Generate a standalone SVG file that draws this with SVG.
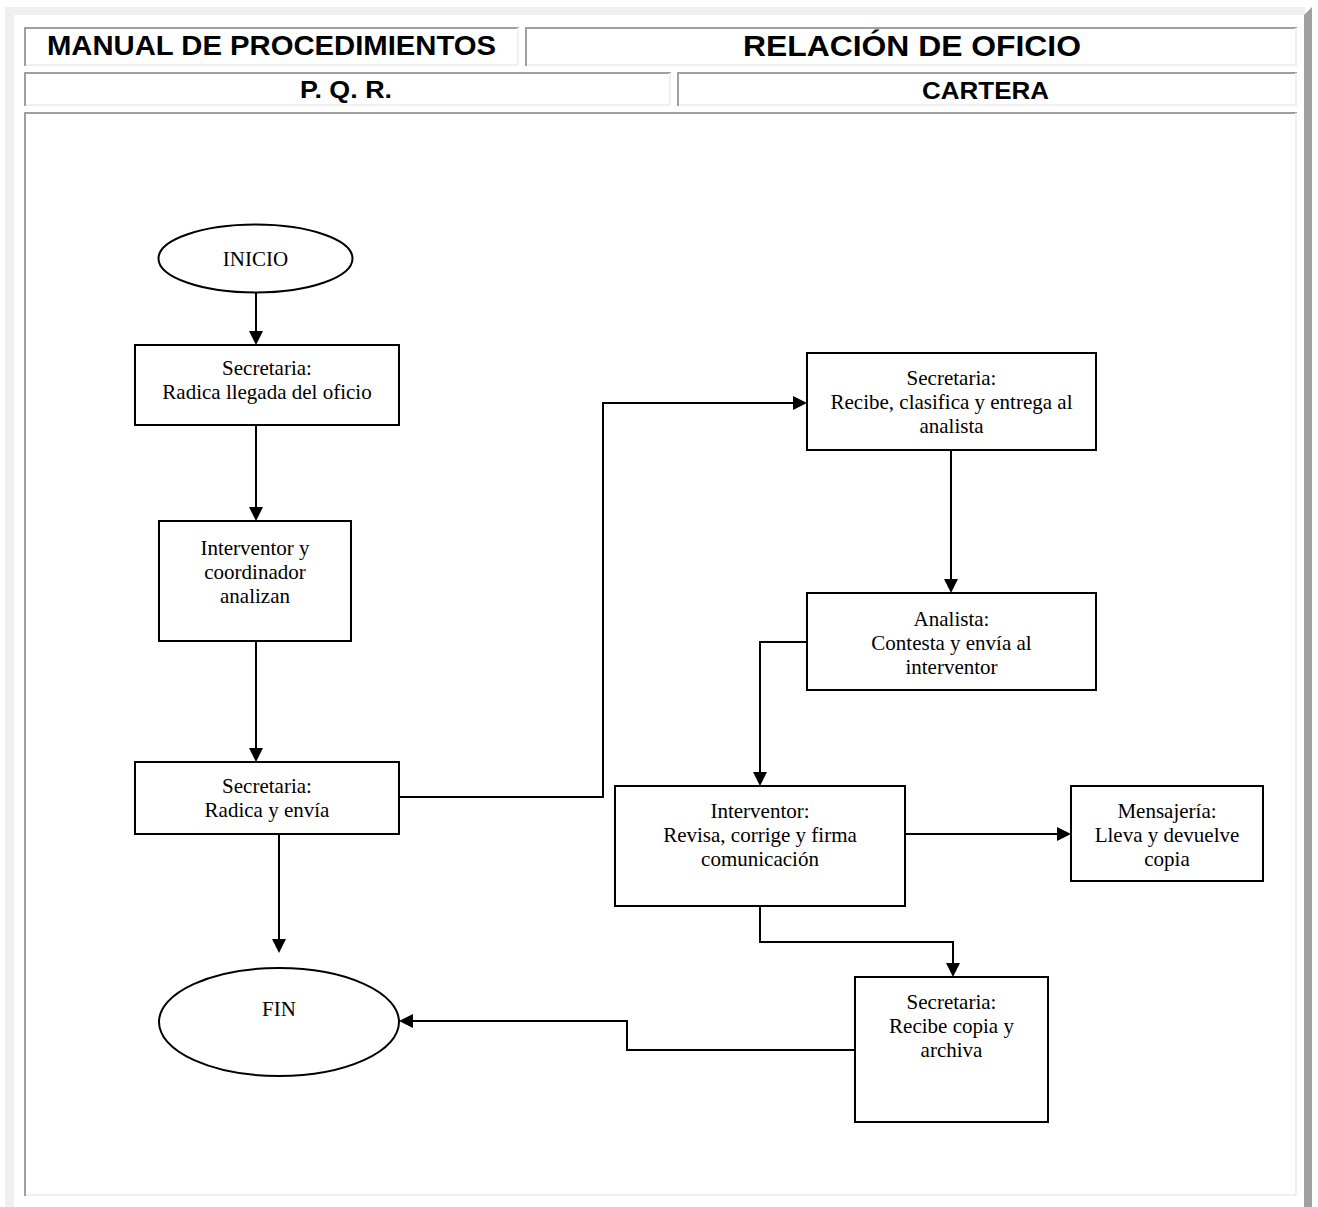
<svg xmlns="http://www.w3.org/2000/svg" width="1318" height="1207" viewBox="0 0 1318 1207">
  <style>
    .frame-light { fill: #f0f0f0; }
    .frame-dark { fill: #a0a0a0; }
    .cell-dark { fill: none; stroke: #a0a0a0; stroke-width: 2; }
    .cell-light { fill: none; stroke: #f0f0f0; stroke-width: 2; }
    .head { font-family: "Liberation Sans", Arial, sans-serif; font-weight: bold; fill: #000; text-anchor: middle; }
    .shape { fill: #fff; stroke: #000; stroke-width: 2; }
    .label { font-family: "Liberation Serif", "Times New Roman", serif; font-size: 21px; fill: #000; text-anchor: middle; }
    .wire { fill: none; stroke: #000; stroke-width: 2; marker-end: url(#arrow); }
  </style>
  <defs>
    <marker id="arrow" viewBox="0 0 14 14" refX="12" refY="7" markerWidth="14" markerHeight="14" markerUnits="userSpaceOnUse" orient="auto">
      <path d="M0,0 L14,7 L0,14 z" fill="#000"/>
    </marker>
  </defs>

  <rect width="1318" height="1207" fill="#fff"/>

  <!-- outer table bevel -->
  <g id="page-frame">
    <rect class="frame-light" x="5" y="7" width="1300" height="8"/>
    <rect class="frame-light" x="5" y="7" width="9" height="1200"/>
    <polygon class="frame-dark" points="1312,7 1312,1207 1304,1207 1304,15"/>
  </g>

  <!-- header cells -->
  <g id="cell-manual">
    <path class="cell-dark" d="M25,66 V28 H519"/>
    <path class="cell-light" d="M518,28 V65 H26"/>
    <text class="head" x="271.5" y="55" font-size="28" textLength="449" lengthAdjust="spacingAndGlyphs">MANUAL DE PROCEDIMIENTOS</text>
  </g>
  <g id="cell-relacion">
    <path class="cell-dark" d="M526,66 V28 H1297"/>
    <path class="cell-light" d="M1296,28 V65 H527"/>
    <text class="head" x="912" y="56" font-size="29" textLength="338" lengthAdjust="spacingAndGlyphs">RELACIÓN DE OFICIO</text>
  </g>
  <g id="cell-pqr">
    <path class="cell-dark" d="M25,106 V73 H671"/>
    <path class="cell-light" d="M670,73 V105 H26"/>
    <text class="head" x="346" y="98" font-size="23" textLength="92" lengthAdjust="spacingAndGlyphs">P. Q. R.</text>
  </g>
  <g id="cell-cartera">
    <path class="cell-dark" d="M678,106 V73 H1297"/>
    <path class="cell-light" d="M1296,73 V105 H679"/>
    <text class="head" x="985.5" y="99" font-size="24" textLength="127" lengthAdjust="spacingAndGlyphs">CARTERA</text>
  </g>
  <g id="cell-body">
    <path class="cell-dark" d="M25,1196 V113 H1297"/>
    <path class="cell-light" d="M1296,113 V1195 H26"/>
  </g>

  <!-- connectors -->
  <g id="connectors">
    <path class="wire" d="M256,293 V343"/>
    <path class="wire" d="M256,425 V519"/>
    <path class="wire" d="M256,641 V760"/>
    <path class="wire" d="M279,834 V951"/>
    <path class="wire" d="M399,797 H603 V403 H805"/>
    <path class="wire" d="M951,450 V591"/>
    <path class="wire" d="M807,642 H760 V784"/>
    <path class="wire" d="M905,834 H1069"/>
    <path class="wire" d="M760,906 V942 H953 V975"/>
    <path class="wire" d="M855,1050 H627 V1021 H401"/>
  </g>

  <!-- flow nodes -->
  <g id="inicio">
    <ellipse class="shape" cx="255.5" cy="258.5" rx="97" ry="34"/>
    <text class="label" x="255.5" y="266">INICIO</text>
  </g>
  <g id="radica-llegada">
    <rect class="shape" x="135" y="345" width="264" height="80"/>
    <text class="label" x="267" y="375">Secretaria:</text>
    <text class="label" x="267" y="399">Radica llegada del oficio</text>
  </g>
  <g id="analizan">
    <rect class="shape" x="159" y="521" width="192" height="120"/>
    <text class="label" x="255" y="555">Interventor y</text>
    <text class="label" x="255" y="579">coordinador</text>
    <text class="label" x="255" y="603">analizan</text>
  </g>
  <g id="radica-envia">
    <rect class="shape" x="135" y="762" width="264" height="72"/>
    <text class="label" x="267" y="793">Secretaria:</text>
    <text class="label" x="267" y="817">Radica y envía</text>
  </g>
  <g id="fin">
    <ellipse class="shape" cx="279" cy="1022" rx="120" ry="54"/>
    <text class="label" x="279" y="1016">FIN</text>
  </g>
  <g id="recibe-clasifica">
    <rect class="shape" x="807" y="353" width="289" height="97"/>
    <text class="label" x="951.5" y="385">Secretaria:</text>
    <text class="label" x="951.5" y="409">Recibe, clasifica y entrega al</text>
    <text class="label" x="951.5" y="433">analista</text>
  </g>
  <g id="analista">
    <rect class="shape" x="807" y="593" width="289" height="97"/>
    <text class="label" x="951.5" y="626">Analista:</text>
    <text class="label" x="951.5" y="650">Contesta y envía al</text>
    <text class="label" x="951.5" y="674">interventor</text>
  </g>
  <g id="interventor">
    <rect class="shape" x="615" y="786" width="290" height="120"/>
    <text class="label" x="760" y="818">Interventor:</text>
    <text class="label" x="760" y="842">Revisa, corrige y firma</text>
    <text class="label" x="760" y="866">comunicación</text>
  </g>
  <g id="mensajeria">
    <rect class="shape" x="1071" y="786" width="192" height="95"/>
    <text class="label" x="1167" y="818">Mensajería:</text>
    <text class="label" x="1167" y="842">Lleva y devuelve</text>
    <text class="label" x="1167" y="866">copia</text>
  </g>
  <g id="archiva">
    <rect class="shape" x="855" y="977" width="193" height="145"/>
    <text class="label" x="951.5" y="1009">Secretaria:</text>
    <text class="label" x="951.5" y="1033">Recibe copia y</text>
    <text class="label" x="951.5" y="1057">archiva</text>
  </g>
</svg>
